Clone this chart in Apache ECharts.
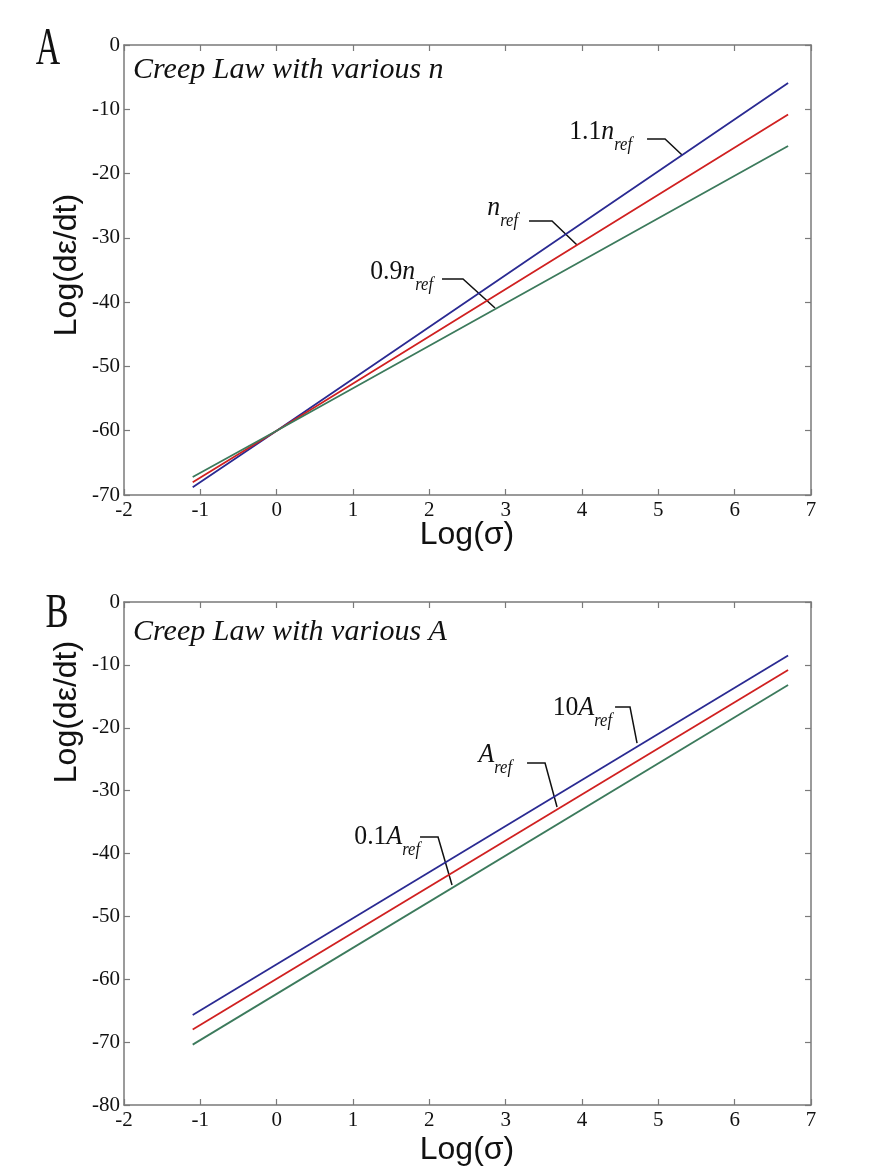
<!DOCTYPE html>
<html><head><meta charset="utf-8">
<script src="https://cdn.jsdelivr.net/npm/echarts@6/dist/echarts.min.js"></script>
<style>html,body{margin:0;padding:0;background:#fff}#c{width:883px;height:1167px}</style>
</head><body><div id="c"></div>
<script>
// ---------------- data ----------------
const xTickLabels = ['-2','-1','0','1','2','3','4','5','6','7'];
const yTickLabelsA = ['-70','-60','-50','-40','-30','-20','-10','0'];
const yTickLabelsB = ['-80','-70','-60','-50','-40','-30','-20','-10','0'];

// Panel A : Creep law with various n
const logSigmaA = [-1.1, 0, 6.7];
const rateA_11n = [-68.8, -60, -5.9];   // 1.1 n_ref
const rateA_n   = [-68.0, -60, -10.8];  // n_ref
const rateA_09n = [-67.2, -60, -15.7];  // 0.9 n_ref

// Panel B : Creep law with various A
const logSigmaB = [-1.1, 6.7];
const rateB_10A = [-65.7, -8.5];   // 10 A_ref
const rateB_A   = [-68.0, -10.8];  // A_ref
const rateB_01A = [-70.4, -13.2];  // 0.1 A_ref

// annotations (data coordinates): label right/baseline point, leader polyline
const annA = [
  {pre:'1.1', it:'n', sub:'ref', at:[4.655,-15.09], leader:[[4.852,-14.62],[5.088,-14.62],[5.311,-17.11]]},
  {pre:'',    it:'n', sub:'ref', at:[3.162,-26.91], leader:[[3.306,-27.38],[3.607,-27.38],[3.935,-31.11]]},
  {pre:'0.9', it:'n', sub:'ref', at:[2.048,-36.87], leader:[[2.166,-36.40],[2.441,-36.40],[2.861,-40.91]]}
];
const annB = [
  {pre:'10',  it:'A', sub:'ref', at:[4.393,-18.45], leader:[[4.433,-16.70],[4.629,-16.70],[4.721,-22.43]]},
  {pre:'',    it:'A', sub:'ref', at:[3.083,-25.92], leader:[[3.280,-25.61],[3.516,-25.61],[3.673,-32.60]]},
  {pre:'0.1', it:'A', sub:'ref', at:[1.878,-38.97], leader:[[1.878,-37.38],[2.114,-37.38],[2.297,-45.01]]}
];

// ---------------- styles ----------------
const SERIF = '"Liberation Serif","Times New Roman",serif';
const SANS = '"Liberation Sans",Arial,sans-serif';
const AXC = '#7a7a7a';
const BLUE = '#2a2a92', RED = '#d02020', GREEN = '#3c7a5c';

const grids = [
  {left:124, top:45, width:687, height:450},
  {left:124, top:602, width:687, height:503}
];

function xAx(g, pos, show){
  return {type:'value', gridIndex:g, position:pos, min:-2, max:7, interval:1,
    axisLine:{show:true, onZero:false, lineStyle:{color:AXC, width:1.5}},
    axisTick:{show:true, inside:true, length:6, lineStyle:{color:AXC, width:1.2}},
    axisLabel:{show:show, color:'#111', fontFamily:SERIF, fontSize:21, margin:5,
      formatter:(v)=>xTickLabels[Math.round(v+2)]},
    splitLine:{show:false}};
}
function yAx(g, pos, show, min, labels){
  return {type:'value', gridIndex:g, position:pos, min:min, max:0, interval:10,
    axisLine:{show:true, onZero:false, lineStyle:{color:AXC, width:1.5}},
    axisTick:{show:true, inside:true, length:6, lineStyle:{color:AXC, width:1.2}},
    axisLabel:{show:show, color:'#111', fontFamily:SERIF, fontSize:21, margin:4,
      formatter:(v)=>labels[Math.round((v-min)/10)]},
    splitLine:{show:false}};
}
function ser(xs, ys, color, xi, yi){
  return {type:'line', xAxisIndex:xi, yAxisIndex:yi, data:xs.map((x,i)=>[x,ys[i]]),
    symbol:'none', lineStyle:{color:color, width:1.8}, silent:true, animation:false};
}

const chart = echarts.init(document.getElementById('c'));
chart.setOption({
  animation:false,
  backgroundColor:'#ffffff',
  grid:grids,
  xAxis:[xAx(0,'bottom',true), xAx(0,'top',false), xAx(1,'bottom',true), xAx(1,'top',false)],
  yAxis:[yAx(0,'left',true,-70,yTickLabelsA), yAx(0,'right',false,-70,yTickLabelsA),
         yAx(1,'left',true,-80,yTickLabelsB), yAx(1,'right',false,-80,yTickLabelsB)],
  series:[
    ser(logSigmaA, rateA_11n, BLUE, 0, 0),
    ser(logSigmaA, rateA_n, RED, 0, 0),
    ser(logSigmaA, rateA_09n, GREEN, 0, 0),
    ser(logSigmaB, rateB_10A, BLUE, 2, 2),
    ser(logSigmaB, rateB_A, RED, 2, 2),
    ser(logSigmaB, rateB_01A, GREEN, 2, 2)
  ]
});

function px(gi, p){ return chart.convertToPixel({gridIndex:gi}, p); }
const graphics = [];
function addAnn(gi, list){
  list.forEach(a=>{
    const pts = a.leader.map(p=>px(gi,p));
    graphics.push({type:'polyline', shape:{points:pts}, style:{stroke:'#111', lineWidth:1.5, fill:null}, silent:true});
    const at = px(gi, a.at);
    const rich = {
      m:{fontFamily:SERIF, fontSize:28, lineHeight:28, padding:[0,0,8,0], verticalAlign:'bottom', fill:'#111'},
      i:{fontFamily:SERIF, fontStyle:'italic', fontSize:28, lineHeight:28, padding:[0,0,8,0], verticalAlign:'bottom', fill:'#111'},
      s:{fontFamily:SERIF, fontStyle:'italic', fontSize:18, lineHeight:18, verticalAlign:'bottom', fill:'#111'}
    };
    const txt = (a.pre ? '{m|'+a.pre+'}' : '') + '{i|'+a.it+'}{s|'+a.sub+'}';
    graphics.push({type:'text', x:at[0], y:at[1]+12, scaleX:0.92, silent:true,
      style:{text:txt, rich:rich, textAlign:'right', textVerticalAlign:'bottom'}});
  });
}
addAnn(0, annA);
addAnn(1, annB);

const titleStyle = {fontFamily:SERIF, fontStyle:'italic', fontSize:30, fill:'#111', textAlign:'left', textVerticalAlign:'middle'};
graphics.push({type:'text', x:133, y:70, silent:true, style:Object.assign({text:'Creep Law with various n'}, titleStyle)});
graphics.push({type:'text', x:133, y:632, silent:true, style:Object.assign({text:'Creep Law with various A'}, titleStyle)});
graphics.push({type:'text', x:48, y:50, scaleX:0.65, silent:true, style:{text:'A', fontFamily:SERIF, fontSize:52, fill:'#111', textAlign:'center', textVerticalAlign:'middle'}});
graphics.push({type:'text', x:57, y:614, scaleX:0.72, silent:true, style:{text:'B', fontFamily:SERIF, fontSize:48, fill:'#111', textAlign:'center', textVerticalAlign:'middle'}});
const labStyle = {fontFamily:SANS, fontSize:32, fill:'#111', textAlign:'center', textVerticalAlign:'middle'};
graphics.push({type:'text', x:467, y:535, silent:true, style:Object.assign({text:'Log(σ)'}, labStyle)});
graphics.push({type:'text', x:467, y:1150, silent:true, style:Object.assign({text:'Log(σ)'}, labStyle)});
graphics.push({type:'text', x:67, y:265, rotation:Math.PI/2, silent:true, style:Object.assign({text:'Log(dε/dt)'}, labStyle)});
graphics.push({type:'text', x:67, y:712, rotation:Math.PI/2, silent:true, style:Object.assign({text:'Log(dε/dt)'}, labStyle)});

chart.setOption({graphic:graphics});
</script>
</body></html>
